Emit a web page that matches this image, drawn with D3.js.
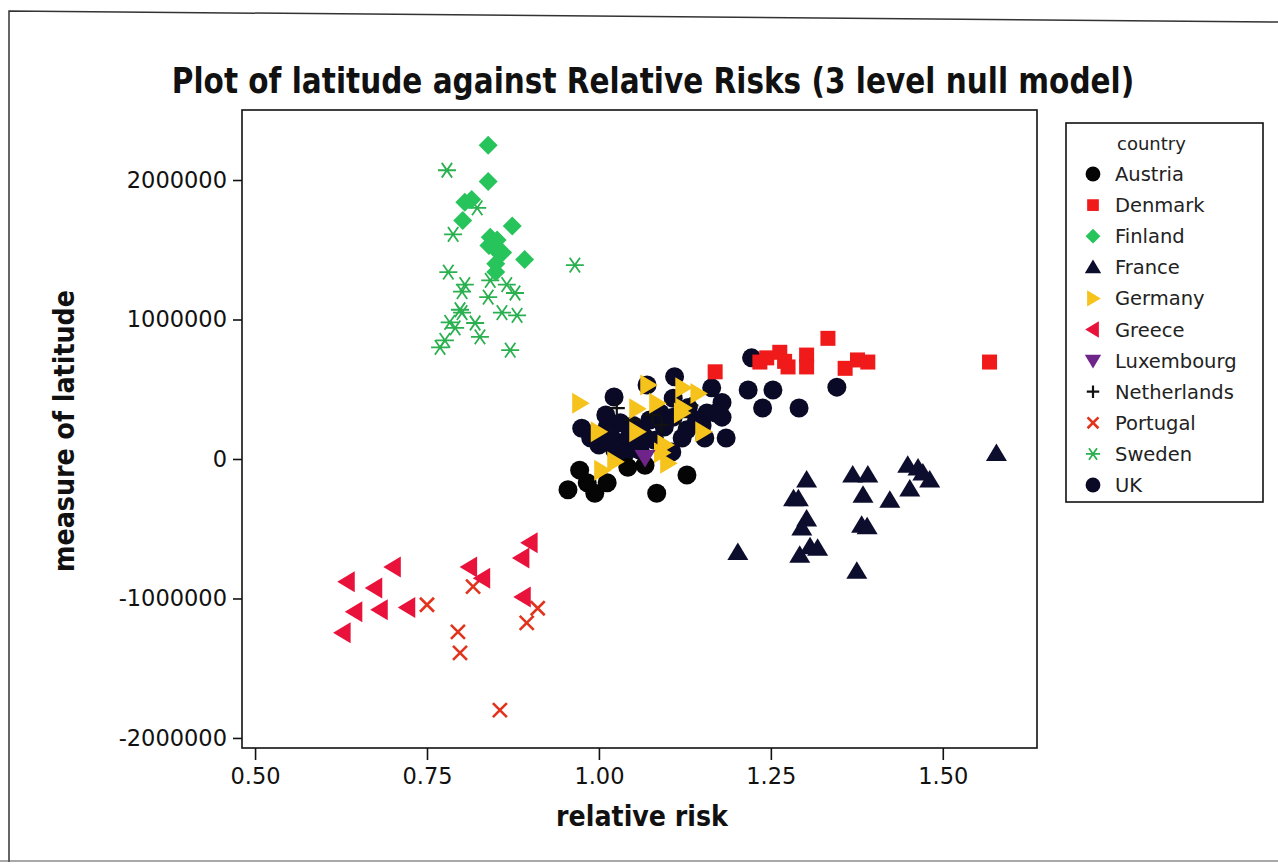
<!DOCTYPE html>
<html><head><meta charset="utf-8">
<script src="https://cdn.jsdelivr.net/npm/d3@7"></script>
<style>body{margin:0;background:#fff}svg{display:block}</style>
</head><body>
<svg id="chart" width="1278" height="864"></svg>
<script>
// Relative risk (x) vs measure of latitude (y), one array per country
const austria = [[0.955,-220000],[0.972,-80000],[0.983,-170000],[0.994,-245000],[1.012,-170000],[1.042,-60000],[1.067,-45000],[1.084,-245000],[1.128,-115000]];
const denmark = [[1.169,625000],[1.234,695000],[1.244,725000],[1.263,765000],[1.270,700000],[1.275,660000],[1.302,745000],[1.302,660000],[1.333,865000],[1.358,650000],[1.376,710000],[1.391,695000],[1.568,695000]];
const finland = [[0.839,2250000],[0.839,1990000],[0.805,1840000],[0.815,1860000],[0.802,1710000],[0.874,1670000],[0.842,1590000],[0.852,1570000],[0.840,1530000],[0.850,1500000],[0.860,1480000],[0.850,1400000],[0.850,1340000],[0.892,1430000]];
const france = [[1.578,40000],[1.302,-150000],[1.369,-115000],[1.391,-115000],[1.449,-45000],[1.464,-65000],[1.471,-100000],[1.481,-150000],[1.452,-215000],[1.283,-285000],[1.290,-285000],[1.384,-260000],[1.423,-295000],[1.302,-430000],[1.295,-495000],[1.382,-475000],[1.390,-485000],[1.307,-630000],[1.318,-640000],[1.292,-690000],[1.202,-670000],[1.375,-805000]];
const germany = [[0.972,400000],[0.999,195000],[1.004,-80000],[1.023,-20000],[1.071,530000],[1.055,360000],[1.055,195000],[1.084,400000],[1.122,510000],[1.144,470000],[1.122,365000],[1.120,330000],[1.151,195000],[1.096,100000],[1.091,45000],[1.100,-30000]];
const greece = [[0.900,-600000],[0.888,-710000],[0.701,-775000],[0.634,-880000],[0.674,-925000],[0.812,-775000],[0.831,-855000],[0.645,-1095000],[0.682,-1080000],[0.722,-1065000],[0.890,-990000],[0.628,-1245000]];
const luxembourg = [[1.067,10000]];
const netherlands = [[1.026,365000],[1.048,280000],[1.078,315000],[1.091,245000],[1.118,300000],[1.133,385000]];
const portugal = [[0.750,-1045000],[0.817,-915000],[0.911,-1070000],[0.895,-1175000],[0.795,-1240000],[0.798,-1390000],[0.856,-1800000]];
const sweden = [[0.779,2070000],[0.823,1800000],[0.788,1610000],[0.965,1390000],[0.781,1340000],[0.842,1280000],[0.805,1250000],[0.801,1200000],[0.866,1250000],[0.878,1190000],[0.839,1160000],[0.798,1070000],[0.801,1050000],[0.859,1050000],[0.881,1030000],[0.783,980000],[0.791,940000],[0.820,975000],[0.827,875000],[0.776,850000],[0.769,800000],[0.871,780000]];
const uk = [[1.222,725000],[1.110,590000],[1.070,530000],[1.164,510000],[1.022,445000],[1.217,495000],[1.253,495000],[1.108,435000],[1.179,405000],[1.238,365000],[1.291,365000],[1.346,515000],[1.185,150000],[1.179,300000],[1.010,315000],[0.975,220000],[0.988,150000],[1.012,230000],[1.031,260000],[1.026,120000],[1.041,135000],[1.060,210000],[1.074,280000],[1.089,330000],[1.108,300000],[1.121,150000],[1.128,210000],[1.142,280000],[1.157,330000],[1.154,150000],[1.106,50000],[1.054,80000],[1.081,135000],[1.000,100000],[1.150,240000],[1.046,190000],[1.095,230000],[1.130,370000],[1.170,330000],[1.023,65000],[1.038,40000],[1.060,60000],[0.998,170000],[1.050,240000],[1.066,160000],[1.016,185000]];

const countryNames = ["Austria","Denmark","Finland","France","Germany","Greece","Luxembourg","Netherlands","Portugal","Sweden","UK"];
const countrySeries = [austria,denmark,finland,france,germany,greece,luxembourg,netherlands,portugal,sweden,uk];
const countryColors = ["#050505","#f01a1a","#27c45c","#0d0d2e","#f6c21c","#e8123a","#6e2488","#111111","#e2341c","#2bb050","#0a0a26"];
const countryShapes = ["circle","square","diamond","triUp","triRight","triLeft","triDown","plus","cross","star","circle"];
// painting order (index into the arrays above), last painted on top
const drawOrder = [10,9,8,0,7,5,4,3,2,1,6];

const xTicks = [0.50,0.75,1.00,1.25,1.50];
const yTicks = [2000000,1000000,0,-1000000,-2000000];

const svg = d3.select("#chart");
const box = {left:242, right:1037, top:110, bottom:748};

const x = d3.scaleLinear().domain([0.481,1.637]).range([box.left, box.right]);
const y = d3.scaleLinear().domain([-2072000,2502000]).range([box.bottom, box.top]);

// outer page frame
svg.append("path").attr("d","M9,862 L9,11 L1278,22").attr("fill","none").attr("stroke","#333").attr("stroke-width",1.5);
svg.append("line").attr("x1",0).attr("x2",1278).attr("y1",861).attr("y2",861).attr("stroke","#555").attr("stroke-width",1.2);

// bold condensed text: squeeze horizontally to a target width around its centre
function condensedText(parent, cx, cy, str, size, width, rotate) {
  const g = parent.append("g");
  const t = g.append("text").attr("text-anchor","middle")
    .attr("font-family","DejaVu Sans").attr("font-weight","bold").attr("font-size",size)
    .attr("fill","#111").text(str);
  const w = t.node().getComputedTextLength();
  const sx = width / w;
  g.attr("transform", `translate(${cx},${cy})` + (rotate ? ` rotate(${rotate})` : "") + ` scale(${sx},1)`);
  return g;
}

// title
condensedText(svg, 653, 93, "Plot of latitude against Relative Risks (3 level null model)", 35, 963, 0);

// plot frame
svg.append("rect").attr("x",box.left).attr("y",box.top).attr("width",box.right-box.left).attr("height",box.bottom-box.top)
  .attr("fill","none").attr("stroke","#111").attr("stroke-width",1.6);

// axes
const yAxis = svg.append("g").attr("transform",`translate(${box.left},0)`)
  .call(d3.axisLeft(y).tickValues(yTicks).tickSize(9).tickSizeOuter(0).tickPadding(6).tickFormat(d=>String(d)));
yAxis.select(".domain").remove();
yAxis.selectAll("line").attr("stroke","#111").attr("stroke-width",1.6);
yAxis.selectAll("text").attr("font-family","DejaVu Sans").attr("font-size",22.5).attr("fill","#111");

const xAxis = svg.append("g").attr("transform",`translate(0,${box.bottom})`)
  .call(d3.axisBottom(x).tickValues(xTicks).tickSize(12).tickSizeOuter(0).tickPadding(8).tickFormat(d3.format(".2f")));
xAxis.select(".domain").remove();
xAxis.selectAll("line").attr("stroke","#111").attr("stroke-width",1.6);
xAxis.selectAll("text").attr("font-family","DejaVu Sans").attr("font-size",22.5).attr("fill","#111");

// axis titles
condensedText(svg, 642, 826, "relative risk", 29, 172, 0);
condensedText(svg, 74, 431, "measure of latitude", 29, 282, -90);

// marker drawing
function drawMarker(g, shape, color, k) {
  switch (shape) {
    case "circle":
      g.append("circle").attr("r",9.5*k).attr("fill",color); break;
    case "square":
      g.append("rect").attr("x",-7.5*k).attr("y",-7.5*k).attr("width",15*k).attr("height",15*k).attr("fill",color); break;
    case "diamond":
      g.append("path").attr("d",`M0,${-9.5*k}L${9.5*k},0L0,${9.5*k}L${-9.5*k},0Z`).attr("fill",color); break;
    case "triUp":
      g.append("path").attr("d",`M0,${-10*k}L${10.5*k},${7.5*k}L${-10.5*k},${7.5*k}Z`).attr("fill",color); break;
    case "triDown":
      g.append("path").attr("d",`M0,${10*k}L${10.5*k},${-7.5*k}L${-10.5*k},${-7.5*k}Z`).attr("fill",color); break;
    case "triRight":
      g.append("path").attr("d",`M${10*k},0L${-7.5*k},${10.5*k}L${-7.5*k},${-10.5*k}Z`).attr("fill",color); break;
    case "triLeft":
      g.append("path").attr("d",`M${-10*k},0L${7.5*k},${10.5*k}L${7.5*k},${-10.5*k}Z`).attr("fill",color); break;
    case "plus":
      g.append("path").attr("d",`M${-8*k},0H${8*k}M0,${-8*k}V${8*k}`).attr("stroke",color).attr("stroke-width",2.2).attr("fill","none"); break;
    case "cross":
      g.append("path").attr("d",`M${-7*k},${-7*k}L${7*k},${7*k}M${7*k},${-7*k}L${-7*k},${7*k}`).attr("stroke",color).attr("stroke-width",2.6).attr("fill","none"); break;
    case "star": {
      const r = 9*k, a = 55*Math.PI/180;
      const dx = r*Math.cos(a), dy = r*Math.sin(a);
      g.append("path").attr("d",`M${-r},0H${r}M${-dx},${-dy}L${dx},${dy}M${dx},${-dy}L${-dx},${dy}`)
        .attr("stroke",color).attr("stroke-width",1.8).attr("fill","none"); break;
    }
  }
}

// points
const plot = svg.append("g");
drawOrder.forEach(i => {
  const grp = plot.append("g").attr("class","country-" + countryNames[i]);
  grp.selectAll("g").data(countrySeries[i]).join("g")
    .attr("transform", d => `translate(${x(d[0])},${y(d[1])})`)
    .each(function() { drawMarker(d3.select(this), countryShapes[i], countryColors[i], 1); });
});

// legend
const lg = svg.append("g");
lg.append("rect").attr("x",1066).attr("y",123).attr("width",197).attr("height",379)
  .attr("fill","#fff").attr("stroke","#111").attr("stroke-width",1.6);
lg.append("text").attr("x",1117).attr("y",150).attr("font-family","DejaVu Sans").attr("font-size",18).attr("fill","#222").text("country");
countryNames.forEach((name, i) => {
  const cy = 174 + i*31.1;
  const m = lg.append("g").attr("transform",`translate(1093,${cy})`);
  drawMarker(m, countryShapes[i], countryColors[i], 0.78);
  lg.append("text").attr("x",1115).attr("y",cy+7).attr("font-family","DejaVu Sans").attr("font-size",19.5).attr("fill","#222").text(name);
});
</script>
</body></html>
